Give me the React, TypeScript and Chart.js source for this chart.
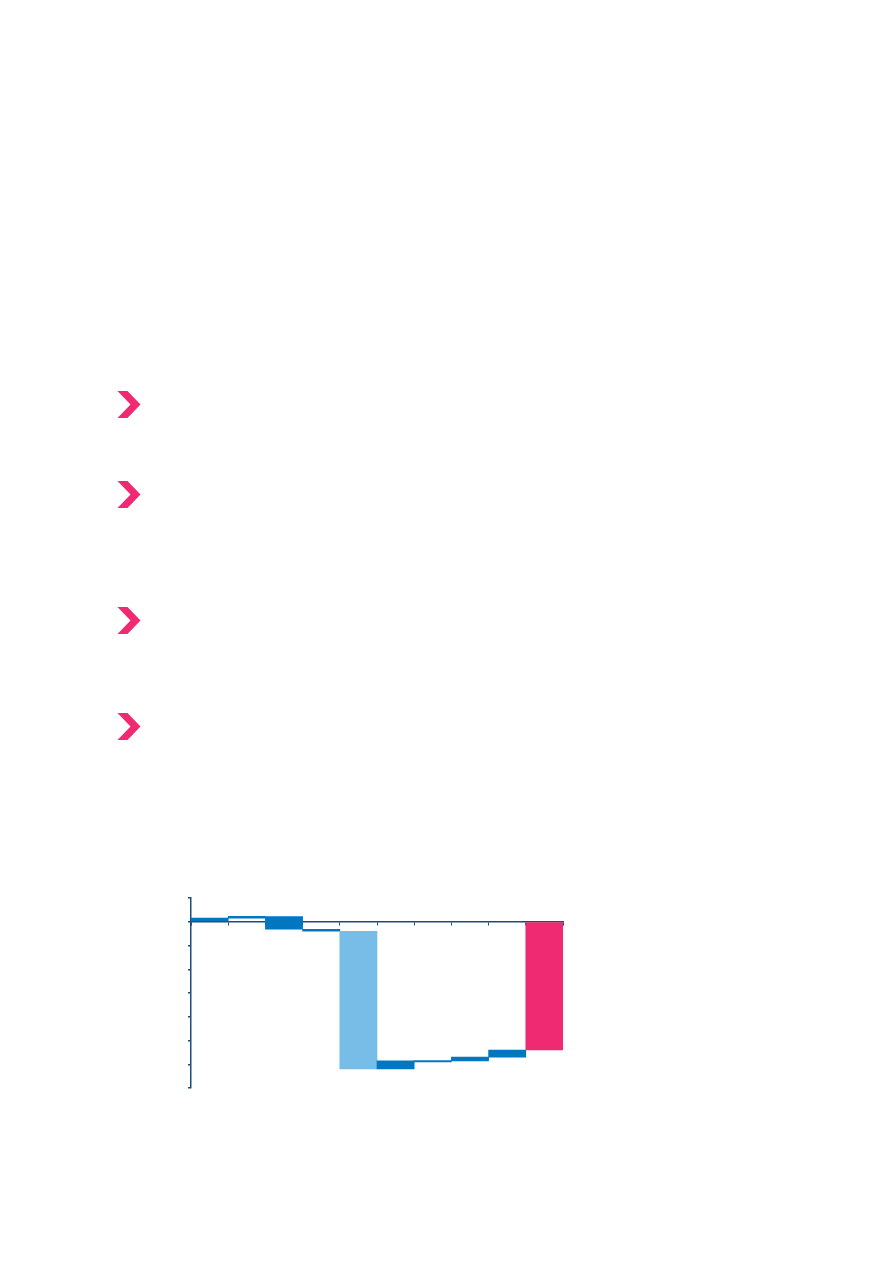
import React, { useEffect, useRef } from "react";
import { Chart, registerables } from "chart.js";

Chart.register(...registerables);

// Waterfall steps (floating bars): start and end of each bar
const categories = ["1", "2", "3", "4", "5", "6", "7", "8", "9", "10"];
const barStarts = [0, 0.15, 0.22, -0.32, -0.4, -5.86, -5.85, -5.7, -5.4, 0];
const barEnds = [0.15, 0.23, -0.31, -0.4, -6.2, -6.2, -5.9, -5.86, -5.7, -5.4];
const barKinds = ["step", "step", "step", "step", "subtotal", "step", "step", "step", "step", "total"];
const yTicks = [1, 0, -1, -2, -3, -4, -5, -6, -7];

// Chevron markers on the page (top positions)
const chevronTops = [391, 481, 607, 713];

const AXIS = "#1d4c7c";
const STEP = "#0077c0";
const SUBTOTAL = "#78bde8";
const TOTAL = "#ef2a73";

function WaterfallChart() {
  const ref = useRef<HTMLCanvasElement | null>(null);
  useEffect(() => {
    if (!ref.current) return;
    const colors = barKinds.map((k) => (k === "subtotal" ? SUBTOTAL : k === "total" ? TOTAL : STEP));
    const chart = new Chart(ref.current, {
      type: "bar",
      data: {
        labels: categories,
        datasets: [
          {
            data: barStarts.map((s, i) => [s, barEnds[i]]) as any,
            backgroundColor: colors,
            borderWidth: 0,
            barPercentage: 1,
            categoryPercentage: 1,
          },
        ],
      },
      options: {
        animation: false,
        responsive: false,
        maintainAspectRatio: false,
        layout: { padding: { left: 37, right: 28, top: 27, bottom: 23 } },
        plugins: { legend: { display: false }, tooltip: { enabled: false } },
        scales: {
          x: {
            position: { y: 0 } as any,
            z: 1,
            offset: true,
            ticks: { display: false },
            grid: {
              display: true,
              offset: true,
              drawOnChartArea: false,
              drawTicks: true,
              tickLength: 3,
              color: AXIS,
              lineWidth: 1,
            },
            border: { display: true, color: AXIS, width: 1.5 },
          },
          y: {
            min: Math.min(...yTicks),
            max: Math.max(...yTicks),
            afterBuildTicks: (s: any) => {
              s.ticks = yTicks.map((v) => ({ value: v }));
            },
            ticks: { display: false, stepSize: 1 },
            grid: {
              display: true,
              drawOnChartArea: false,
              drawTicks: true,
              tickLength: 3,
              color: AXIS,
              lineWidth: 1.5,
            },
            border: { display: true, color: AXIS, width: 1.5 },
          },
        },
      },
    });
    return () => chart.destroy();
  }, []);
  return (
    <canvas
      ref={ref}
      width={440}
      height={240}
      style={{ position: "absolute", left: 151, top: 871, width: 440, height: 240 }}
    />
  );
}

function Chevron({ top }: { top: number }) {
  return (
    <svg
      width={24}
      height={27}
      style={{ position: "absolute", left: 116.5, top }}
      viewBox="0 0 24 27"
    >
      <polygon points="0.5,0 10.5,0 23.5,13.5 10.5,27 0.5,27 13.5,13.5" fill={TOTAL} />
    </svg>
  );
}

export default function App() {
  return (
    <div
      style={{
        position: "absolute",
        left: 0,
        top: 0,
        width: 893,
        height: 1263,
        background: "#ffffff",
        overflow: "hidden",
      }}
    >
      {chevronTops.map((t) => (
        <Chevron key={t} top={t} />
      ))}
      <WaterfallChart />
    </div>
  );
}
